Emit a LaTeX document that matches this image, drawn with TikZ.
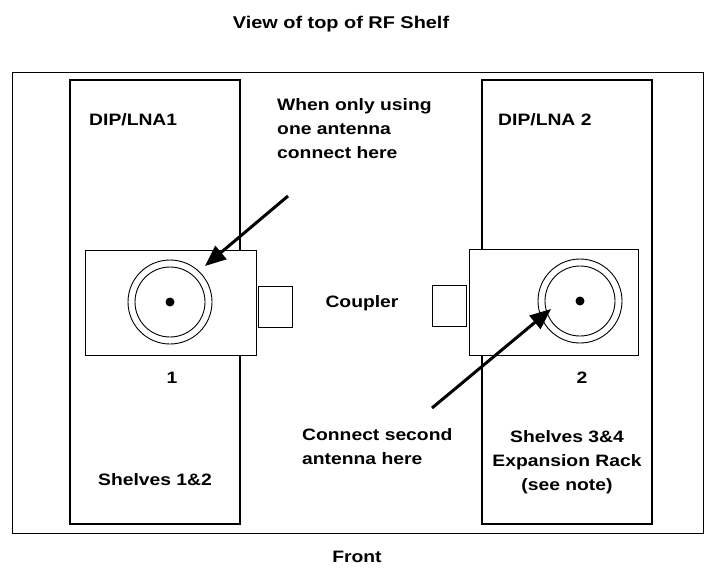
\documentclass[tikz,border=0pt]{standalone}
\usepackage{fontspec}
\setmainfont[FakeStretch=1.17]{Liberation Sans}
\usetikzlibrary{arrows.meta}
\begin{document}
\begin{tikzpicture}[x=1pt,y=-1pt,
  txt/.style={font=\fontsize{16.5}{24}\selectfont\bfseries, inner sep=0pt},
  thinbox/.style={draw=black, line width=0.9pt},
  panel/.style={draw=black, line width=1.6pt},
  bigarrow/.style={line width=3pt, -{Triangle[length=21pt,width=17pt]}}]
\useasboundingbox (0,0) rectangle (719,575);
% frames
\draw[thinbox] (12,72) rectangle (703,533);
\draw[panel] (70,80) rectangle (240,524);
\draw[panel] (482,80) rectangle (652,524);
% connector boxes
\draw[thinbox, fill=white] (85,250) rectangle (256,355);
\draw[thinbox, fill=white] (469,249) rectangle (638,355);
\draw[thinbox] (258,286) rectangle (292,327);
\draw[thinbox] (432,285) rectangle (466,326);
% antenna connectors
\node[circle, draw, line width=0.9pt, minimum size=84pt, inner sep=0pt] (c1o) at (170,302) {};
\node[circle, draw, line width=0.9pt, minimum size=70pt, inner sep=0pt] (c1i) at (170,302) {};
\fill (c1o.center) circle (4.5pt);
\node[circle, draw, line width=0.9pt, minimum size=84pt, inner sep=0pt] (c2o) at (580,301) {};
\node[circle, draw, line width=0.9pt, minimum size=70pt, inner sep=0pt] (c2i) at (580,301) {};
\fill (c2o.center) circle (4.5pt);
% texts
\node[txt, font=\fontsize{17}{24}\selectfont\bfseries] (title) at (341,24) {View of top of RF Shelf};
\node[txt, anchor=west] (lna1) at (89,120) {DIP/LNA1};
\node[txt, anchor=west] (lna2) at (498,120) {DIP/LNA 2};
\node[txt, anchor=west, align=left] (note1) at (277,129) {When only using\\one antenna\\connect here};
\node[txt] (coupler) at (362,303) {Coupler};
\node[txt] (n1) at (172,378) {1};
\node[txt] (n2) at (582,378) {2};
\node[txt, anchor=west, align=left] (note2) at (302,447) {Connect second\\antenna here};
\node[txt, align=center] (sh34) at (567,462) {Shelves 3\&4\\Expansion Rack\\(see note)};
\node[txt] (sh12) at (155,480) {Shelves 1\&2};
\node[txt] (front) at (357,557) {Front};
% arrows
\coordinate (a1s) at (288,196);
\coordinate (a1e) at (205,266);
\coordinate (a2s) at (432,408);
\coordinate (a2e) at (551,309);
\draw[bigarrow] (a1s) -- (a1e);
\draw[bigarrow] (a2s) -- (a2e);
\end{tikzpicture}
\end{document}
